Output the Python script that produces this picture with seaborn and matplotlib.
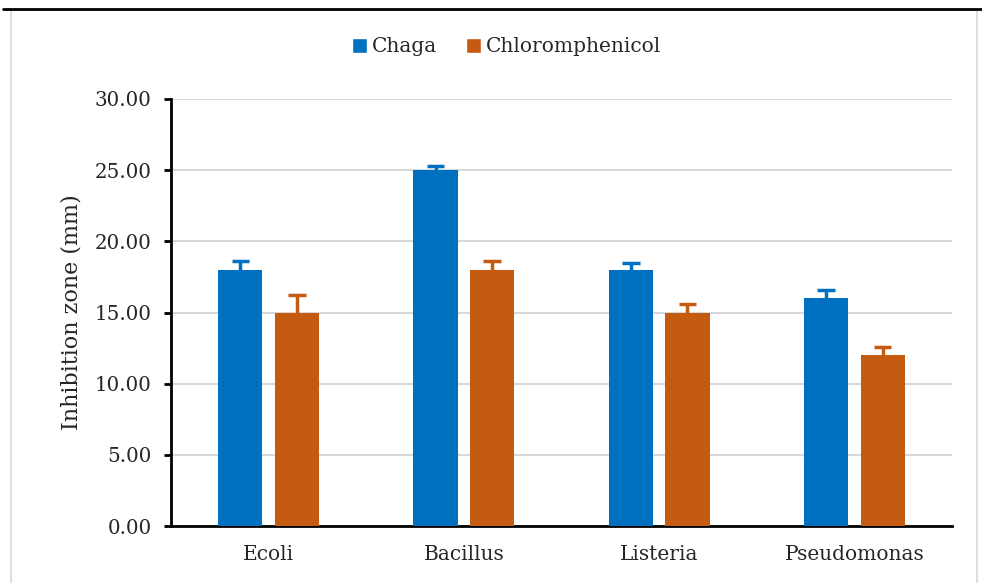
import matplotlib
matplotlib.use("Agg")
import matplotlib.pyplot as plt
import seaborn as sns
import pandas as pd
import numpy as np
from matplotlib.patches import Rectangle
from matplotlib.lines import Line2D

categories = ["Ecoli", "Bacillus", "Listeria", "Pseudomonas"]
series = ["Chaga", "Chloromphenicol"]
chaga = [18.0, 25.0, 18.0, 16.0]
chlor = [15.0, 18.0, 15.0, 12.0]
chaga_err = [0.6, 0.3, 0.5, 0.6]
chlor_err = [1.2, 0.6, 0.6, 0.6]
yticks = [0, 5, 10, 15, 20, 25, 30]
colors = ["#0070C0", "#C55A11"]

df = pd.DataFrame({
    "cat": categories * 2,
    "series": [series[0]] * 4 + [series[1]] * 4,
    "val": chaga + chlor,
    "err": chaga_err + chlor_err,
})

sns.set_theme(style="white")
plt.rcParams["font.family"] = ["DejaVu Serif"]

fig = plt.figure(figsize=(9.82, 5.83), dpi=100)
ax = fig.add_axes([171 / 982, 1 - 526 / 583, 781 / 982, 427 / 583])

sns.barplot(data=df, x="cat", y="val", hue="series", order=categories,
            hue_order=series, palette=colors, width=0.58, gap=0.22,
            saturation=1, errorbar=None, ax=ax, legend=False, zorder=3,
            edgecolor="none", linewidth=0)

# error bars (upper only)
for i, s in enumerate(series):
    sub = df[df.series == s].set_index("cat").loc[categories]
    cont = ax.containers[i]
    xs = np.array([p.get_x() + p.get_width() / 2 for p in cont.patches])
    vals = sub["val"].values
    tops = vals + sub["err"].values
    ax.vlines(xs, vals, tops, colors=colors[i], linewidth=2.5, zorder=4)
    ax.hlines(tops, xs - 0.045, xs + 0.045, colors=colors[i], linewidth=2.5, zorder=4)

ax.set_ylim(0, 30)
ax.set_xlim(-0.5, 3.5)
ax.set_yticks(yticks)
ax.set_yticklabels([f"{v:.2f}" for v in yticks], fontsize=14.3)
ax.tick_params(axis="x", labelsize=14.5, length=0, pad=14)
ax.tick_params(axis="y", length=5, width=2, color="black", direction="out", left=True, pad=9)
ax.yaxis.grid(True, color="#D9D9D9", linewidth=1.5, zorder=0)
ax.set_axisbelow(True)
for sp in ["top", "right"]:
    ax.spines[sp].set_visible(False)
ax.spines["left"].set_color("black")
ax.spines["bottom"].set_color("black")
ax.spines["left"].set_linewidth(2)
ax.spines["bottom"].set_linewidth(2)
ax.set_xlabel("")
ax.set_ylabel("Inhibition zone (mm)", fontsize=16, labelpad=9)

handles = [Rectangle((0, 0), 1, 1, facecolor=c) for c in colors]
fig.legend(handles, series, loc="center", bbox_to_anchor=(0.516, 1 - 47 / 583),
           ncol=2, frameon=False, fontsize=14.5, handlelength=0.75,
           handleheight=0.75, handletextpad=0.25, columnspacing=1.4)

# border box and top line
fig.patches.append(Rectangle((11 / 982, -0.01), 966 / 982, 1 - 10 / 583 + 0.01,
                             transform=fig.transFigure, fill=False,
                             edgecolor="#D9D9D9", linewidth=1.2))
fig.lines.append(Line2D([3 / 982, 1], [1 - 9 / 583, 1 - 9 / 583],
                        transform=fig.transFigure, color="black", linewidth=2))

fig.savefig("out.png", dpi=100)
